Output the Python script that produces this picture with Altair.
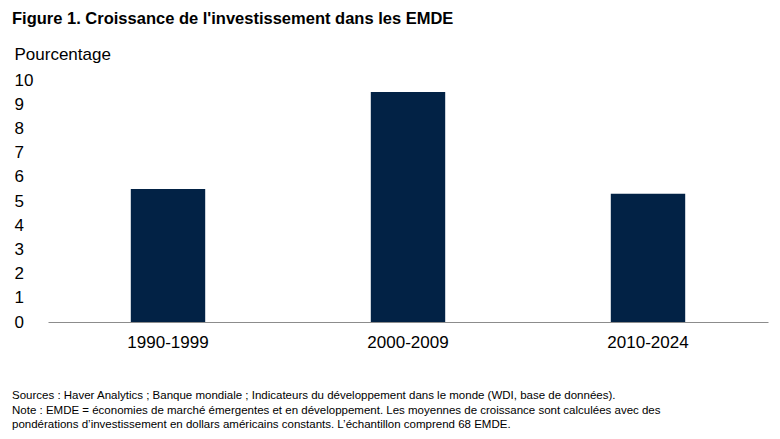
import altair as alt
import pandas as pd

periods = ["1990-1999", "2000-2009", "2010-2024"]
values = [5.5, 9.5, 5.3]
y_ticks = [0, 1, 2, 3, 4, 5, 6, 7, 8, 9, 10]

title_text = "Figure 1. Croissance de l'investissement dans les EMDE"
notes = [
    "Sources : Haver Analytics ; Banque mondiale ; Indicateurs du développement dans le monde (WDI, base de données).",
    "Note : EMDE = économies de marché émergentes et en développement. Les moyennes de croissance sont calculées avec des",
    "pondérations d’investissement en dollars américains constants. L’échantillon comprend 68 EMDE.",
]

df = pd.DataFrame({"period": periods, "value": values})
FONT = "Liberation Sans"

bars = alt.Chart(df).mark_bar(color="#022245").encode(
    x=alt.X("period:N", sort=periods,
            scale=alt.Scale(paddingInner=0.69, paddingOuter=0.345),
            axis=alt.Axis(title=None, labelAngle=0, labelFontSize=17, labelColor="#000",
                          labelFont=FONT, ticks=False, labelPadding=12,
                          domainColor="#8c8c8c", domainWidth=1)),
    y=alt.Y("value:Q", scale=alt.Scale(domain=[0, 10]),
            axis=alt.Axis(values=y_ticks, title="Pourcentage", titleAngle=0, titleAlign="left",
                          titleBaseline="alphabetic", titleX=-34, titleY=-21,
                          titleFontSize=17, titleFontWeight="normal", titleFont=FONT, titleColor="#000",
                          labelAlign="left", labelPadding=34, tickSize=0, ticks=False,
                          labelFontSize=17, labelFont=FONT, labelColor="#000",
                          grid=False, domain=False)),
)

title_df = pd.DataFrame({"t": [title_text]})
title = alt.Chart(title_df).mark_text(align="left", baseline="alphabetic", fontSize=16.5,
                                      font=FONT, fontWeight=600, color="#000").encode(
    x=alt.value(-36), y=alt.value(-56), text="t:N")

notes_df = pd.DataFrame({"t": notes, "i": [0, 1, 2]})
note_marks = alt.Chart(notes_df).transform_calculate(yy="316 + datum.i*14.5").mark_text(
    align="left", baseline="middle", fontSize=11.5, font=FONT, color="#000").encode(
    x=alt.value(-36), y=alt.Y("yy:Q", scale=None), text="t:N")

chart = alt.layer(bars, title, note_marks).properties(
    width=720, height=242,
    padding={"left": 40, "top": 72, "right": 4, "bottom": 108},
    autosize=alt.AutoSizeParams(type="none"),
    background="white",
).configure_view(stroke=None)

chart.save("out.html", embed_options={"renderer": "svg", "actions": False})
